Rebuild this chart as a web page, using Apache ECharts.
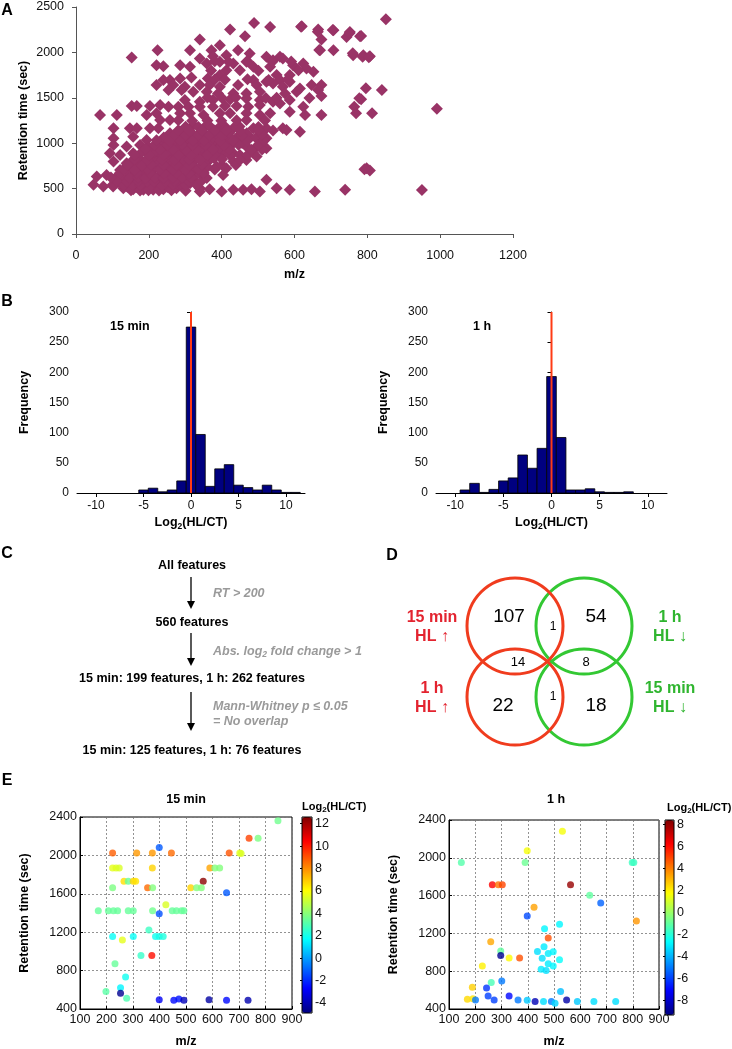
<!DOCTYPE html>
<html><head><meta charset="utf-8">
<script src="https://cdn.jsdelivr.net/npm/echarts@6/dist/echarts.min.js"></script>
<style>html,body{margin:0;padding:0;background:#fff}#c{width:732px;height:1049px}</style>
</head><body><div id="c"></div>
<script>
// ---------------- DATA ----------------
// Panel A: [m/z, retention time]
const pointsA = [
[489,2324],[533,2280],[423,2251],[464,2178],[340,2141],[620,2288],[665,2251],[707,2244],[752,2225],[743,2170],[780,2178],[674,2141],[395,2079],[313,2024],[224,2024],[153,1943],[372,2024],[445,2024],[477,1987],[413,1969],[376,1958],[523,1951],[560,1951],[707,2024],[670,2024],[761,1969],[789,1969],[807,1958],[340,1932],[359,1877],[395,1896],[432,1877],[468,1896],[487,1841],[541,1914],[568,1932],[596,1859],[624,1877],[633,1823],[221,1859],[240,1848],[286,1859],[313,1841],[413,1804],[450,1804],[533,1841],[652,1786],[551,1750],[587,1750],[395,1750],[362,1713],[317,1724],[286,1713],[258,1695],[240,1695],[487,1695],[523,1676],[560,1695],[587,1676],[221,1640],[267,1640],[299,1621],[340,1640],[367,1640],[395,1621],[445,1640],[496,1640],[541,1658],[568,1621],[615,1603],[647,1640],[674,1640],[665,1585],[254,1585],[290,1585],[322,1566],[359,1566],[390,1548],[432,1548],[468,1548],[505,1566],[574,1548],[606,1566],[674,1519],[423,1482],[299,1475],[340,1457],[376,1475],[468,1493],[505,1475],[541,1457],[560,1438],[587,1475],[153,1409],[167,1409],[203,1409],[231,1420],[254,1402],[281,1402],[309,1402],[340,1402],[376,1402],[409,1409],[441,1409],[473,1402],[505,1420],[587,1347],[624,1402],[66,1310],[112,1310],[194,1310],[221,1329],[286,1329],[313,1329],[350,1310],[395,1329],[423,1329],[468,1329],[505,1310],[533,1329],[629,1310],[674,1310],[231,1255],[258,1255],[468,1255],[103,1164],[148,1164],[167,1164],[203,1164],[226,1164],[322,1200],[359,1200],[395,1182],[432,1164],[487,1164],[523,1164],[568,1164],[578,1146],[615,1127],[103,1054],[157,1072],[194,1036],[258,1109],[286,1127],[322,1072],[359,1072],[386,1036],[413,1036],[450,1036],[477,1072],[505,1036],[523,1054],[103,981],[139,963],[176,981],[221,963],[258,963],[295,963],[340,963],[376,963],[432,999],[468,963],[496,963],[523,944],[93,889],[121,871],[157,889],[194,889],[231,871],[267,889],[304,871],[340,889],[367,926],[395,889],[432,889],[450,871],[487,889],[103,798],[139,780],[167,780],[203,816],[249,798],[286,816],[322,798],[367,816],[432,798],[468,816],[496,853],[121,706],[157,725],[194,725],[231,725],[267,706],[304,725],[340,725],[386,743],[413,725],[84,651],[112,633],[148,651],[176,633],[212,651],[249,633],[286,633],[340,670],[404,651],[57,633],[203,578],[167,560],[240,560],[276,578],[313,560],[48,542],[75,523],[102,523],[130,505],[157,494],[185,487],[212,487],[240,494],[276,505],[340,505],[367,494],[340,468],[400,468],[432,487],[459,487],[482,494],[505,468],[523,597],[551,505],[587,487],[656,468],[739,487],[798,725],[807,699],
[851,2364],[783,2181],[787,1953],[804,1946],[796,1604],[840,1586],[783,1483],[813,1329],[991,1380],[792,712],[950,485],[778,1494],[764,1402],[769,1329],[751,2210],[760,1990],[664,2228],[705,2246],[668,2026],[618,2283],
[141,521],[166,518],[191,523],[219,520],[251,517],[271,522],[294,519],
[121,562],[146,558],[186,561],[224,563],[262,557],[289,560],
[131,602],[159,598],[181,603],[201,597],[229,601],[256,604],[281,598],[301,602],[321,599],
[151,652],[189,648],[231,653],[259,647],[301,651],[329,649],
[141,692],[176,688],[209,693],[246,689],[279,691],[316,687],
[166,742],[214,738],[256,743],[289,739],[326,741],[361,737],
[151,792],[186,788],[224,793],[266,789],[301,791],[351,787],
[171,842],[209,838],[251,843],[289,839],[331,841],[379,837],
[181,902],[214,898],[251,903],[284,897],[321,901],[349,899],[411,902],
[201,952],[239,948],[276,953],[309,947],[346,951],[394,949],
[231,1002],[264,998],[301,1003],[334,997],[371,1001],[419,999],[456,1002],
[241,1062],[269,1058],[306,1061],[339,1057],[376,1063],[441,1059],[494,1061],
[291,1112],[319,1108],[351,1111],[384,1107],[421,1113],[469,1109],
[301,1182],[336,1178],[369,1181],[411,1177],[449,1183],[501,1179],
[281,1252],[319,1248],[361,1251],[399,1247],[441,1253],[519,1249],
[381,1702],[409,1698],[471,1703],[529,1697],[581,1701],
[371,1802],[501,1798],[611,1803],
[381,1902],[419,1898],[471,1903],[539,1897],[591,1901],
[361,1502],[401,1498],[439,1503],[521,1497],[551,1501],[641,1499],
[151,482],[176,478],[199,483],[228,479],[262,481],[301,477],
[101,542],[131,538],[156,543],[178,539],[206,541],[236,537],[266,543],[301,539],[331,541],
[111,582],[141,578],[171,583],[196,579],[214,581],[246,577],[271,583],[311,579],[344,581],
[96,622],[146,618],[171,623],[191,619],[216,621],[241,617],[266,623],[291,619],[316,621],[359,617],
[121,672],[166,668],[201,673],[241,669],[276,671],[311,667],[351,673],
[131,712],[161,708],[196,713],[231,709],[266,711],[301,707],[336,713],[381,709],
[141,762],[181,758],[206,763],[241,759],[276,761],[311,757],[346,763],[401,759],[439,761],
[161,822],[196,818],[236,823],[271,819],[311,821],[341,817],[401,823],[451,819],
[161,872],[201,868],[241,873],[281,869],[316,871],[361,867],[421,873],[471,869],
[191,932],[231,928],[266,933],[301,929],[331,931],[376,927],[421,933],[481,929],[511,931],
[216,982],[251,978],[291,983],[321,979],[356,981],[406,977],[446,983],[501,979],
[221,1032],[256,1028],[286,1033],[321,1029],[351,1031],[396,1027],[431,1033],[471,1029],[516,1031],
[271,1092],[301,1088],[336,1093],[366,1089],[401,1091],[456,1087],[511,1093],
[281,1142],[311,1138],[346,1143],[381,1139],[411,1141],[451,1137],[501,1143],[541,1139]
];

// Panel B histograms (bin centres, counts)
const hist15Bins   = [-5,-4,-3,-2,-1,0,1,2,3,4,5,6,7,8,9,10,11];
const hist15Counts = [5,8,2,5,20,275,97,11,40,47,13,9,5,13,5,1,1];
const hist1hBins   = [-9,-8,-7,-6,-5,-4,-3,-2,-1,0,1,2,3,4,5,6,7,8];
const hist1hCounts = [5,16,1,6,20,25,63,41,74,193,92,5,5,7,2,1,1,2];
const histTicks = [-10,-5,0,5,10];

// Panel C flow chart
const flowSteps   = ['All features','560 features','15 min: 199 features, 1 h: 262 features','15 min: 125 features, 1 h: 76 features'];
const flowFilters = [['RT > 200'],['Abs. {s|log}{sub|2}{s| fold change > 1}'],['Mann-Whitney p \u2264 0.05','= No overlap']];

// Panel D Venn counts
const vennCounts = [107, 54, 1, 14, 8, 22, 1, 18];
const vennLabels = [['15 min','HL \u2191'],['1 h','HL \u2193'],['1 h','HL \u2191'],['15 min','HL \u2193']];

// Panel E: [m/z, RT, log2(HL/CT)]
const e15 = [
[847,2362,3.6],[738,2178,9.3],[772,2178,3.8],[399,2083,-1.2],[223,2025,8.8],[314,2025,7.8],[373,2025,7.8],[445,2025,8.6],[663,2025,9.0],[703,2025,5.6],[708,2020,5.4],
[223,1868,5.6],[236,1868,5.5],[248,1868,5.4],[373,1868,6.8],[590,1868,7.6],[609,1868,3.9],[627,1868,3.9],
[565,1731,12.4],[266,1731,6.6],[282,1731,3.4],[301,1731,6.8],[310,1731,6.5],
[223,1663,3.8],[355,1663,8.6],[374,1663,3.9],[518,1663,6.8],[540,1663,3.9],[558,1663,3.9],
[653,1612,-1.2],[424,1485,5.4],
[169,1424,3.4],[207,1424,3.4],[226,1424,3.4],[242,1424,3.4],[282,1424,3.4],[301,1424,3.4],[374,1424,3.6],[448,1424,3.4],[464,1424,3.4],[483,1424,3.4],[492,1424,3.4],
[399,1393,-1.4],[360,1222,2.7],[223,1154,1.8],[301,1154,1.8],[385,1154,1.9],[399,1154,2.0],[414,1154,2.2],[260,1120,5.6],[330,956,2.6],[371,956,10.2],[232,871,3.4],[272,734,1.9],[253,622,1.5],[198,581,3.2],[253,564,-4.6],[276,513,3.0],
[399,496,-2.9],[454,492,-2.6],[473,505,-2.4],[492,492,-3.9],[587,496,-4.3],[653,492,-2.6],[734,492,-4.1]
];
const e1h = [
[147,1949,-1.2],[398,2075,1.6],[390,1949,-0.8],[532,2280,1.6],[798,1949,-1.6],[804,1949,-1.6],
[265,1716,6.2],[288,1716,4.2],[303,1716,5.0],[563,1716,8.0],
[636,1603,-1.0],[678,1521,-5.4],[424,1477,3.4],[398,1385,-5.8],[814,1330,3.6],
[464,1248,-2.8],[521,1297,-2.8],[478,1152,4.8],[259,1111,3.3],
[297,1015,-1.0],[297,965,-9.0],[329,940,1.8],[369,940,4.8],
[437,1009,-3.2],[462,1060,-3.0],[478,988,-3.0],[497,1005,-2.8],[455,937,-3.2],[521,920,-2.6],[478,879,-3.0],[497,855,-2.8],[451,820,-3.0],[470,807,-3.2],
[227,855,2.0],[261,680,-1.4],[301,697,-5.0],[189,629,2.6],[243,622,-6.2],[249,537,-6.0],[272,496,-6.0],[329,537,-7.0],[363,496,-5.0],[398,492,-3.6],[428,479,-8.4],[460,479,-3.2],[490,479,-5.0],[504,462,-3.4],[548,496,-8.6],[525,585,-3.8],[589,479,-3.6],[652,479,-3.2],[735,479,-3.2],[170,502,2.4],[191,509,2.2],[201,496,-5.0]
];
const cbar15Ticks = [-4,-2,0,2,4,6,8,10,12];
const cbar1hTicks = [-8,-6,-4,-2,0,2,4,6,8];
const cbar15Range = [-4.9, 12.6];
const cbar1hRange = [-9.3, 8.4];

// ---------------- CHART ----------------
const FONT = '"Liberation Sans", Arial, Helvetica, sans-serif';
const JET = ['#000080','#0000ff','#0080ff','#00ffff','#80ff80','#ffff00','#ff8000','#ff0000','#800000'];
const chart = echarts.init(document.getElementById('c'), null, {renderer:'canvas', width:732, height:1049});
const plain = v => String(v);

const boldName = {fontWeight:'bold', fontSize:12.5, color:'#000', fontFamily:FONT};
const logRich = {
  a:{fontWeight:'bold', fontSize:12.5, color:'#000', fontFamily:FONT},
  s:{fontWeight:'bold', fontSize:8.5, color:'#000', fontFamily:FONT, padding:[7,0,0,0]}
};
const logName = '{a|Log}{s|2}{a|(HL/CT)}';

function histAxes(gi) {
  return {
    x: {gridIndex:gi, type:'value', min:-12, max:12,
        axisLine:{show:true, onZero:false, lineStyle:{color:'#000', width:1}},
        axisTick:{show:true, customValues:histTicks, length:4, lineStyle:{color:'#000'}},
        axisLabel:{customValues:histTicks, fontSize:12, color:'#111', margin:7, fontFamily:FONT, formatter:plain},
        splitLine:{show:false},
        name:logName, nameLocation:'middle', nameGap:22, nameMoveOverlap:false, nameTextStyle:{rich:logRich}},
    y: {gridIndex:gi, type:'value', min:0, max:300, interval:50,
        axisLine:{show:true, lineStyle:{color:'#000', width:1}},
        axisTick:{show:true, length:4, lineStyle:{color:'#000'}},
        axisLabel:{fontSize:12, color:'#111', margin:8, fontFamily:FONT, formatter:plain},
        splitLine:{show:false},
        name:'Frequency', nameLocation:'middle', nameGap:46, nameMoveOverlap:false, nameRotate:90, nameTextStyle:boldName}
  };
}
function eAxes(gi) {
  return {
    x: {gridIndex:gi, type:'value', min:100, max:900, interval:100,
        axisLine:{show:true, onZero:false, lineStyle:{color:'#000'}},
        axisTick:{show:true, inside:true, length:3, lineStyle:{color:'#000'}},
        axisLabel:{fontSize:12.5, color:'#111', margin:4, fontFamily:FONT, formatter:plain},
        splitLine:{show:true, lineStyle:{color:'#777', type:[2,2], width:0.8}},
        name:'m/z', nameLocation:'middle', nameGap:26, nameMoveOverlap:false, nameTextStyle:boldName},
    y: {gridIndex:gi, type:'value', min:400, max:2400, interval:400,
        axisLine:{show:true, onZero:false, lineStyle:{color:'#000'}},
        axisTick:{show:true, inside:true, length:3, lineStyle:{color:'#000'}},
        axisLabel:{fontSize:12.5, color:'#111', margin:3, fontFamily:FONT, formatter:plain},
        splitLine:{show:true, lineStyle:{color:'#777', type:[2,2], width:0.8}},
        name:'Retention time (sec)', nameLocation:'middle', nameGap:49, nameMoveOverlap:false, nameRotate:90, nameTextStyle:boldName}
  };
}
function cbarAxes(gi, range, ticks) {
  return {
    x: {gridIndex:gi, type:'value', min:0, max:1, show:false},
    y: {gridIndex:gi, type:'value', min:range[0], max:range[1], position:'right',
        axisLine:{show:false},
        axisTick:{show:true, inside:true, length:2, customValues:ticks, lineStyle:{color:'#000'}},
        axisLabel:{customValues:ticks, fontSize:12.5, color:'#111', margin:3, fontFamily:FONT, formatter:plain},
        splitLine:{show:false}}
  };
}
const hb1 = histAxes(1), hb2 = histAxes(2), ea = eAxes(3), eb = eAxes(4);
const cA = cbarAxes(5, cbar15Range, cbar15Ticks), cB = cbarAxes(6, cbar1hRange, cbar1hTicks);

function histRender(params, api) {
  const x = api.value(0), y = api.value(1);
  const p0 = api.coord([x - 0.5, y]);
  const p1 = api.coord([x + 0.5, 0]);
  return {type:'rect', shape:{x:p0[0], y:p0[1], width:p1[0]-p0[0], height:p1[1]-p0[1]},
          style:{fill:'#000080', stroke:'#000', lineWidth:0.8}};
}

// ---- graphics ----
function txt(x, y, text, font, fill, align, extra) {
  const st = Object.assign({text:text, font:font, fill:fill || '#000', align:align || 'center', verticalAlign:'middle',
    textAlign:align || 'center', textVerticalAlign:'middle'}, extra || {});
  return {type:'text', x:x, y:y, style:st, z:100};
}
const G = [];
const labFont = 'bold 16px ' + FONT;
G.push(txt(7, 11, 'A', labFont, '#000'));
G.push(txt(7, 302, 'B', labFont, '#000'));
G.push(txt(7, 554, 'C', labFont, '#000'));
G.push(txt(392, 556, 'D', labFont, '#000'));
G.push(txt(7, 781, 'E', labFont, '#000'));
G.push(txt(110, 327, '15 min', 'bold 12.5px ' + FONT, '#000', 'left'));
G.push(txt(473, 327, '1 h', 'bold 12.5px ' + FONT, '#000', 'left'));

// flow chart
const stepY = [566, 623, 679, 751];
const flowFont = 'bold 12.5px ' + FONT;
stepY.forEach((y, i) => G.push(txt(192, y, flowSteps[i], flowFont, '#000')));
const arrows = [[577, 609], [633, 666], [692, 731]];
arrows.forEach(a => {
  G.push({type:'line', shape:{x1:191, y1:a[0], x2:191, y2:a[1]-6}, style:{stroke:'#000', lineWidth:1.3}, z:100});
  G.push({type:'polygon', shape:{points:[[187, a[1]-8], [195, a[1]-8], [191, a[1]]]}, style:{fill:'#000'}, z:100});
});
const grayFont = 'italic bold 12.5px ' + FONT;
const grayRich = {s:{font:grayFont, fill:'#9a9a9a'}, sub:{font:'italic bold 8.5px ' + FONT, fill:'#9a9a9a', padding:[6,0,0,0]}};
G.push(txt(213, 594, flowFilters[0][0], grayFont, '#9a9a9a', 'left'));
G.push(txt(213, 652, flowFilters[1][0], grayFont, '#9a9a9a', 'left', {rich:grayRich}));
G.push(txt(213, 707, flowFilters[2][0], grayFont, '#9a9a9a', 'left'));
G.push(txt(213, 722, flowFilters[2][1], grayFont, '#9a9a9a', 'left'));

// Venn
const RED = '#f03c1e', GREEN = '#33c833', REDT = '#e3232f', GREENT = '#2fb52f';
const circles = [[584,626,GREEN],[584,697,GREEN],[515,626,RED],[515,697,RED]];
circles.forEach(c => G.push({type:'circle', shape:{cx:c[0], cy:c[1], r:48}, style:{fill:'none', stroke:c[2], lineWidth:3}, z:90}));
const vennPos = [[509,617,19],[596,617,19],[553,627,12],[518,662,13],[586,662,13],[503,706,19],[553,697,12],[596,706,19]];
vennPos.forEach((p, i) => G.push(txt(p[0], p[1], String(vennCounts[i]), p[2] + 'px ' + FONT, '#000')));
const vlPos = [[432,618,REDT],[670,618,GREENT],[432,689,REDT],[670,689,GREENT]];
vlPos.forEach((p, i) => {
  G.push(txt(p[0], p[1], vennLabels[i][0], 'bold 16px ' + FONT, p[2]));
  G.push(txt(p[0], p[1] + 19, vennLabels[i][1], 'bold 16px ' + FONT, p[2]));
});

// E titles
G.push(txt(186, 800, '15 min', 'bold 12.5px ' + FONT, '#000'));
G.push(txt(556, 800, '1 h', 'bold 12.5px ' + FONT, '#000'));
const cbRich = {a:{font:'bold 11px ' + FONT, fill:'#000'}, s:{font:'bold 8px ' + FONT, fill:'#000', padding:[5,0,0,0]}};
G.push(txt(302, 807, '{a|Log}{s|2}{a|(HL/CT)}', 'bold 11px ' + FONT, '#000', 'left', {rich:cbRich}));
G.push(txt(667, 808, '{a|Log}{s|2}{a|(HL/CT)}', 'bold 11px ' + FONT, '#000', 'left', {rich:cbRich}));
G.push({type:'rect', shape:{x:302, y:817, width:10, height:196}, style:{fill:'none', stroke:'#000', lineWidth:1}, z:100});
G.push({type:'rect', shape:{x:665, y:820, width:9, height:195}, style:{fill:'none', stroke:'#000', lineWidth:1}, z:100});

const option = {
  backgroundColor:'#fff',
  animation:false,
  textStyle:{fontFamily:FONT},
  grid:[
    {left:76, top:7, width:437, height:227},
    {left:77, top:312, width:228, height:181},
    {left:436, top:312, width:231, height:181},
    {left:80, top:817, width:212, height:196, show:true, borderColor:'#000', borderWidth:1, backgroundColor:'transparent'},
    {left:449, top:820, width:210, height:195, show:true, borderColor:'#000', borderWidth:1, backgroundColor:'transparent'},
    {left:302, top:817, width:10, height:196},
    {left:665, top:820, width:9, height:195}
  ],
  xAxis:[
    {gridIndex:0, type:'value', min:0, max:1200, interval:200,
     axisLine:{show:true, onZero:false, lineStyle:{color:'#555'}},
     axisTick:{show:true, length:4, lineStyle:{color:'#555'}},
     axisLabel:{fontSize:12.5, color:'#111', margin:15, fontFamily:FONT, formatter:plain},
     splitLine:{show:false},
     name:'m/z', nameLocation:'middle', nameGap:34, nameMoveOverlap:false, nameTextStyle:boldName},
    hb1.x, hb2.x, ea.x, eb.x, cA.x, cB.x
  ],
  yAxis:[
    {gridIndex:0, type:'value', min:0, max:2500, interval:500,
     axisLine:{show:true, lineStyle:{color:'#555'}},
     axisTick:{show:true, length:4, lineStyle:{color:'#555'}},
     axisLabel:{fontSize:12.5, color:'#111', margin:12, fontFamily:FONT, formatter:plain},
     splitLine:{show:false},
     name:'Retention time (sec)', nameLocation:'middle', nameGap:46, nameMoveOverlap:false, nameRotate:90, nameTextStyle:boldName},
    hb1.y, hb2.y, ea.y, eb.y, cA.y, cB.y
  ],
  visualMap:[
    {type:'continuous', seriesIndex:5, dimension:2, min:cbar15Range[0], max:cbar15Range[1],
     left:302, top:817, itemWidth:10, itemHeight:196, padding:0, calculable:false, hoverLink:false,
     inRange:{color:JET}, textStyle:{fontSize:0}},
    {type:'continuous', seriesIndex:6, dimension:2, min:cbar1hRange[0], max:cbar1hRange[1],
     left:665, top:820, itemWidth:9, itemHeight:195, padding:0, calculable:false, hoverLink:false,
     inRange:{color:JET}, textStyle:{fontSize:0}}
  ],
  series:[
    {type:'scatter', xAxisIndex:0, yAxisIndex:0, data:pointsA, symbol:'diamond', symbolSize:12,
     itemStyle:{color:'#993366', opacity:1}, silent:true},
    {type:'custom', xAxisIndex:1, yAxisIndex:1, renderItem:histRender,
     data:hist15Bins.map((b, i) => [b, hist15Counts[i]]), encode:{x:0, y:1}, silent:true, z:2},
    {type:'line', xAxisIndex:1, yAxisIndex:1, data:[[0,0],[0,300]], symbol:'none',
     lineStyle:{color:'#ff3b14', width:2}, silent:true, z:5},
    {type:'custom', xAxisIndex:2, yAxisIndex:2, renderItem:histRender,
     data:hist1hBins.map((b, i) => [b, hist1hCounts[i]]), encode:{x:0, y:1}, silent:true, z:2},
    {type:'line', xAxisIndex:2, yAxisIndex:2, data:[[0,0],[0,300]], symbol:'none',
     lineStyle:{color:'#ff3b14', width:2}, silent:true, z:5},
    {type:'scatter', xAxisIndex:3, yAxisIndex:3, data:e15, symbol:'circle', symbolSize:7, silent:true},
    {type:'scatter', xAxisIndex:4, yAxisIndex:4, data:e1h, symbol:'circle', symbolSize:7, silent:true}
  ],
  graphic:G
};
chart.setOption(option);
</script></body></html>
